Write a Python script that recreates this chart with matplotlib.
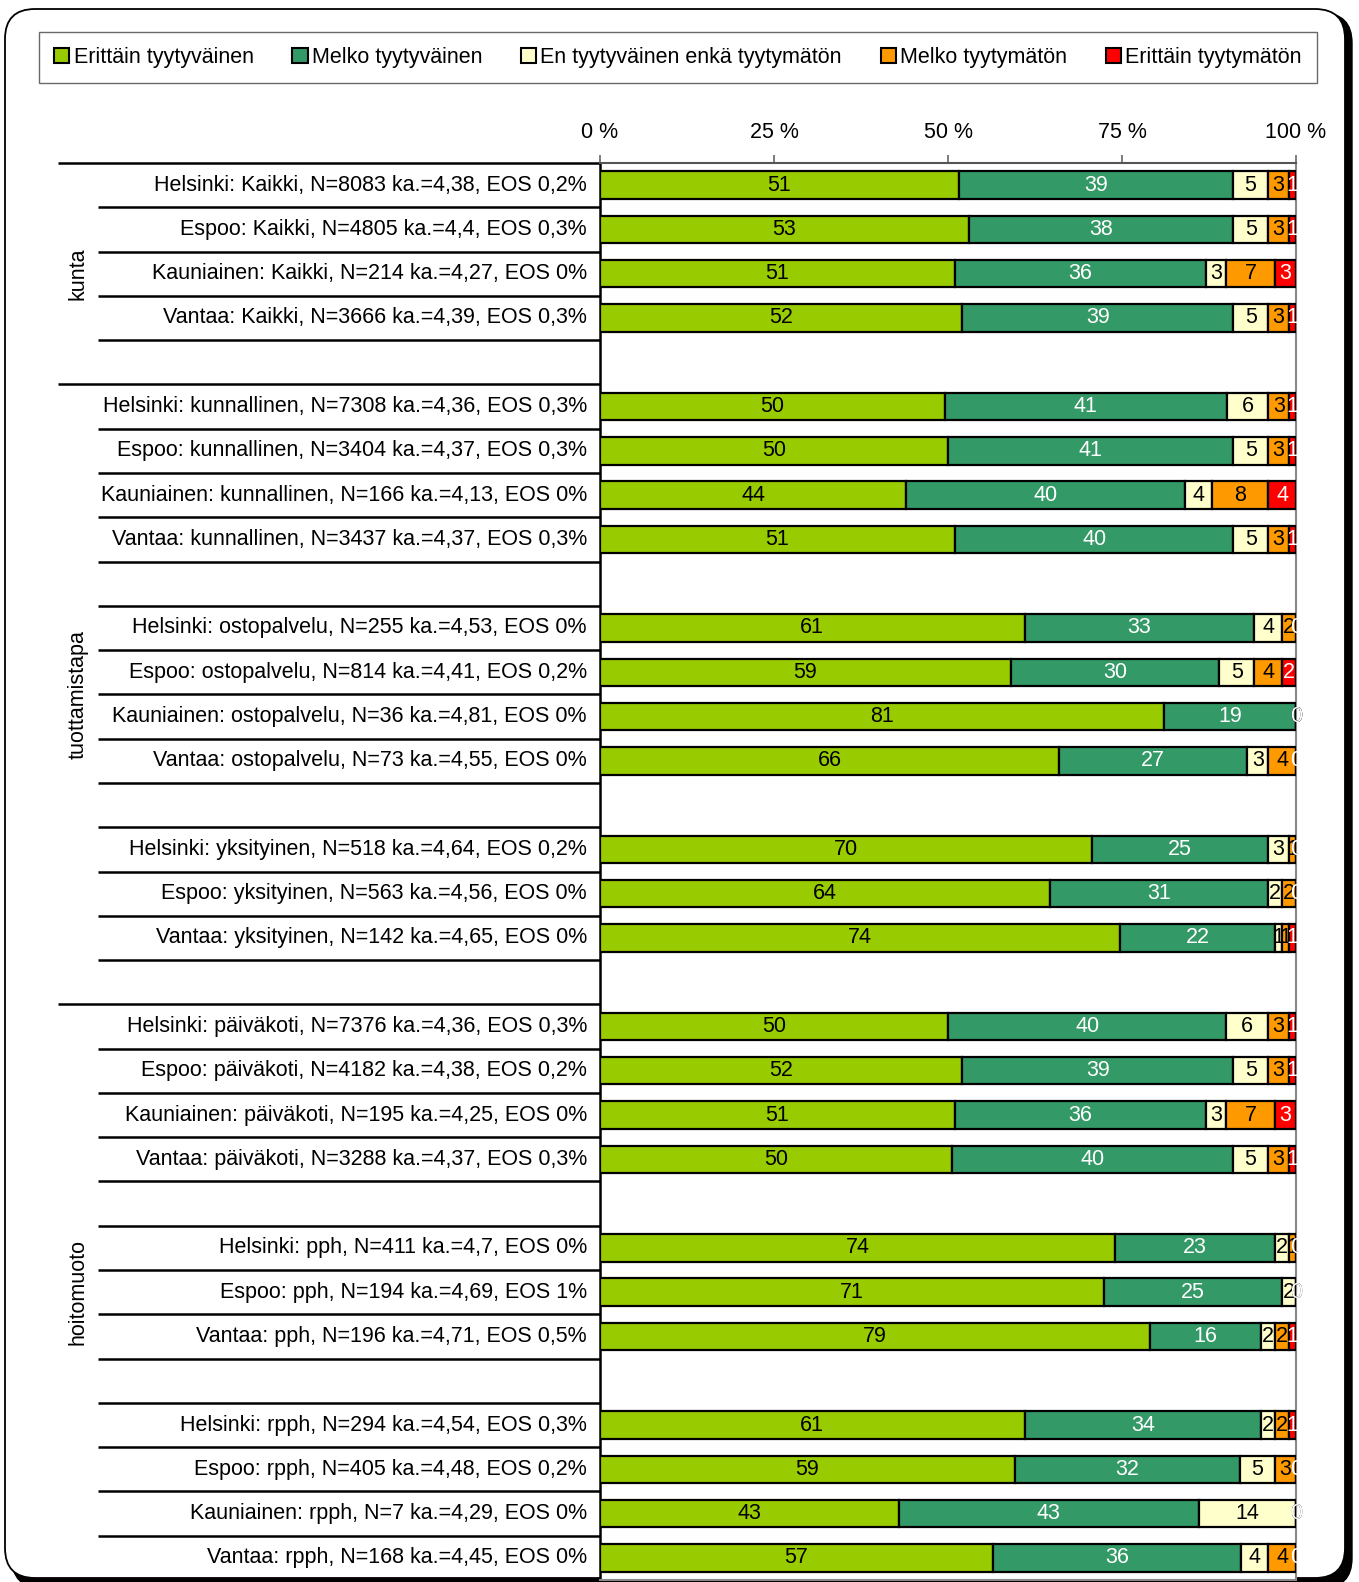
import matplotlib
matplotlib.use('Agg')
import matplotlib.pyplot as plt
import numpy as np
from matplotlib.patches import FancyBboxPatch, Patch
from matplotlib.transforms import blended_transform_factory, IdentityTransform

plt.rcParams['font.family'] = ['Liberation Sans', 'DejaVu Sans']

# Response categories and their colours
categories = ['Erittäin tyytyväinen', 'Melko tyytyväinen',
              'En tyytyväinen enkä tyytymätön', 'Melko tyytymätön',
              'Erittäin tyytymätön']
colors = ['#99CC00', '#339966', '#FFFFCC', '#FF9900', '#FF0000']
text_colors = ['black', 'white', 'black', 'black', 'white']

# Row labels ('' = spacer row between subgroups)
row_labels = [
    'Helsinki: Kaikki, N=8083 ka.=4,38, EOS 0,2%',
    'Espoo: Kaikki, N=4805 ka.=4,4, EOS 0,3%',
    'Kauniainen: Kaikki, N=214 ka.=4,27, EOS 0%',
    'Vantaa: Kaikki, N=3666 ka.=4,39, EOS 0,3%',
    '',
    'Helsinki: kunnallinen, N=7308 ka.=4,36, EOS 0,3%',
    'Espoo: kunnallinen, N=3404 ka.=4,37, EOS 0,3%',
    'Kauniainen: kunnallinen, N=166 ka.=4,13, EOS 0%',
    'Vantaa: kunnallinen, N=3437 ka.=4,37, EOS 0,3%',
    '',
    'Helsinki: ostopalvelu, N=255 ka.=4,53, EOS 0%',
    'Espoo: ostopalvelu, N=814 ka.=4,41, EOS 0,2%',
    'Kauniainen: ostopalvelu, N=36 ka.=4,81, EOS 0%',
    'Vantaa: ostopalvelu, N=73 ka.=4,55, EOS 0%',
    '',
    'Helsinki: yksityinen, N=518 ka.=4,64, EOS 0,2%',
    'Espoo: yksityinen, N=563 ka.=4,56, EOS 0%',
    'Vantaa: yksityinen, N=142 ka.=4,65, EOS 0%',
    '',
    'Helsinki: päiväkoti, N=7376 ka.=4,36, EOS 0,3%',
    'Espoo: päiväkoti, N=4182 ka.=4,38, EOS 0,2%',
    'Kauniainen: päiväkoti, N=195 ka.=4,25, EOS 0%',
    'Vantaa: päiväkoti, N=3288 ka.=4,37, EOS 0,3%',
    '',
    'Helsinki: pph, N=411 ka.=4,7, EOS 0%',
    'Espoo: pph, N=194 ka.=4,69, EOS 1%',
    'Vantaa: pph, N=196 ka.=4,71, EOS 0,5%',
    '',
    'Helsinki: rpph, N=294 ka.=4,54, EOS 0,3%',
    'Espoo: rpph, N=405 ka.=4,48, EOS 0,2%',
    'Kauniainen: rpph, N=7 ka.=4,29, EOS 0%',
    'Vantaa: rpph, N=168 ka.=4,45, EOS 0%',
]

# Percentages per category, one entry per non-spacer row
erittain_tyytyvainen = [51, 53, 51, 52, 50, 50, 44, 51, 61, 59, 81, 66, 70, 64, 74,
                        50, 52, 51, 50, 74, 71, 79, 61, 59, 43, 57]
melko_tyytyvainen = [39, 38, 36, 39, 41, 41, 40, 40, 33, 30, 19, 27, 25, 31, 22,
                     40, 39, 36, 40, 23, 25, 16, 34, 32, 43, 36]
en_kumpikaan = [5, 5, 3, 5, 6, 5, 4, 5, 4, 5, 0, 3, 3, 2, 1,
                6, 5, 3, 5, 2, 2, 2, 2, 5, 14, 4]
melko_tyytymaton = [3, 3, 7, 3, 3, 3, 8, 3, 2, 4, 0, 4, 1, 2, 1,
                    3, 3, 7, 3, 1, 0, 2, 2, 3, 0, 4]
erittain_tyytymaton = [1, 1, 3, 1, 1, 1, 4, 1, 0, 2, 0, 0, 0, 0, 1,
                       1, 1, 3, 1, 0, 0, 1, 1, 0, 0, 0]

# Top-level groups: (label, first row, end row)
groups = [('kunta', 0, 5), ('tuottamistapa', 5, 19), ('hoitomuoto', 19, 32)]

FS = 15.5
W, H = 1359, 1582
fig = plt.figure(figsize=(W / 100, H / 100), dpi=100)

# Rounded chart frame with a drop shadow
shadow = FancyBboxPatch((12, -6), 1340, 1575, boxstyle='round,pad=0,rounding_size=30',
                        transform=IdentityTransform(), facecolor='black',
                        edgecolor='black', zorder=-11)
frame = FancyBboxPatch((5, 4), 1340, 1569, boxstyle='round,pad=0,rounding_size=30',
                       transform=IdentityTransform(), facecolor='white',
                       edgecolor='black', linewidth=1.3, zorder=-10)
fig.add_artist(shadow)
fig.add_artist(frame)

# Plot area in pixel coordinates
x0, x1, y_top, y_bot = 600, 1296, 163, 1580
ax = fig.add_axes([x0 / W, 1 - y_bot / H, (x1 - x0) / W, (y_bot - y_top) / H])

n_rows = len(row_labels)
data = np.array([erittain_tyytyvainen, melko_tyytyvainen, en_kumpikaan,
                 melko_tyytymaton, erittain_tyytymaton], dtype=float)
shares = data / data.sum(axis=0)

ypos = np.array([i + 0.5 for i, lab in enumerate(row_labels) if lab])
left = np.zeros(len(ypos))
for k in range(5):
    ax.barh(ypos, shares[k], left=left, height=0.62, color=colors[k],
            edgecolor='black', linewidth=1.6, label=categories[k], zorder=3)
    for y, l, w, v in zip(ypos, left, shares[k], data[k]):
        ax.text(l + w / 2, y, f'{int(v)}', ha='center', va='center',
                fontsize=FS, color=text_colors[k], zorder=5)
    left += shares[k]

ax.set_xlim(0, 1)
ax.set_ylim(n_rows, 0)
ax.xaxis.tick_top()
ax.set_xticks([0, 0.25, 0.5, 0.75, 1.0])
ax.set_xticklabels(['0 %', '25 %', '50 %', '75 %', '100 %'], fontsize=FS)
ax.tick_params(axis='x', length=6, width=1.2, color='#666666', pad=8.5)
ax.set_yticks([])
for side in ['top', 'right', 'bottom']:
    ax.spines[side].set_color('#888888')
    ax.spines[side].set_linewidth(1.5)
ax.spines['top'].set_color('#555555')
ax.spines['left'].set_color('black')
ax.spines['left'].set_linewidth(1.8)

# Multi-level category axis: separators, row labels and group labels
trans = blended_transform_factory(fig.transFigure, ax.transData)
long_lines = {g[1] for g in groups} | {n_rows}
for k in range(n_rows + 1):
    xs = 58 if k in long_lines else 98
    ax.plot([xs / W, x0 / W], [k, k], transform=trans, color='black',
            linewidth=1.8, clip_on=False, solid_capstyle='butt')
for i, lab in enumerate(row_labels):
    if lab:
        ax.text(587 / W, i + 0.5, lab, transform=trans, ha='right', va='center',
                fontsize=FS)
for name, a, b in groups:
    ax.text(78 / W, (a + b) / 2, name, transform=trans, rotation=90,
            ha='center', va='center', fontsize=FS)

# Legend across the top
handles = [Patch(facecolor=c, edgecolor='black', linewidth=1.5) for c in colors]
leg = fig.legend(handles, categories, loc='center', ncol=5,
                 bbox_to_anchor=((37 + 1319) / 2 / W, 1 - 57.5 / H),
                 fontsize=FS, frameon=True, fancybox=False, edgecolor='#444444',
                 handlelength=0.7, handleheight=0.7, handletextpad=0.2,
                 columnspacing=1.8, borderpad=0.7)
leg.get_frame().set_linewidth(1.0)

fig.savefig('out.png', dpi=100, facecolor='white')
